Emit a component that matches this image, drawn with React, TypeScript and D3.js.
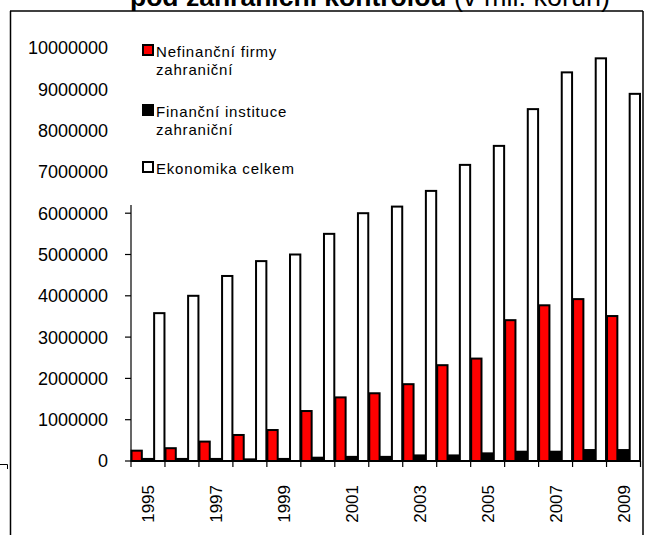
import React from "react";
import * as d3 from "d3";

const years = [
  "1995", "1996", "1997", "1998", "1999", "2000", "2001", "2002",
  "2003", "2004", "2005", "2006", "2007", "2008", "2009",
];

const seriesNames = [
  "Nefinanční firmy zahraniční",
  "Finanční instituce zahraniční",
  "Ekonomika celkem",
];

const nefinancni = [
  250000, 310000, 470000, 630000, 750000, 1210000, 1540000, 1640000,
  1860000, 2320000, 2480000, 3410000, 3770000, 3920000, 3510000,
];

const financni = [
  50000, 50000, 50000, 40000, 50000, 80000, 100000, 100000,
  135000, 135000, 185000, 225000, 225000, 265000, 265000,
];

const celkem = [
  3580000, 4000000, 4480000, 4840000, 5000000, 5500000, 6000000, 6160000,
  6540000, 7170000, 7630000, 8520000, 9410000, 9750000, 8890000,
];

const yTicks = [0, 1000000, 2000000, 3000000, 4000000, 5000000, 6000000, 7000000, 8000000, 9000000, 10000000];
const xLabelYears = ["1995", "1997", "1999", "2001", "2003", "2005", "2007", "2009"];

const colors = ["#ff0000", "#000000", "#ffffff"];
const legendLines = [
  ["Nefinanční firmy", "zahraniční"],
  ["Finanční instituce", "zahraniční"],
  ["Ekonomika celkem"],
];

const W = 646;
const H = 535;
const font = "'Liberation Sans', Arial, sans-serif";

export default function App() {
  const values = [nefinancni, financni, celkem];

  const x0 = d3.scaleBand().domain(years).range([131, 640.5]).padding(0);
  const x1 = d3
    .scaleBand()
    .domain(seriesNames)
    .range([0, x0.bandwidth()])
    .padding(0);
  const y = d3.scaleLinear().domain([0, 10000000]).range([461, 48]);

  const boundaries = years.map((yr) => x0(yr)).concat([x0.range()[1]]);

  return (
    <svg
      width={W}
      height={H}
      style={{ position: "absolute", left: 0, top: 0, background: "#fff" }}
      fontFamily={font}
    >
      {/* title, cut off at the top */}
      <text x={130} y={6} fill="#000">
        <tspan fontWeight="bold" fontSize={26.5}>pod zahraniční kontrolou</tspan>
        <tspan fontSize={27}> (v mil. korun)</tspan>
      </text>

      {/* frame */}
      <line x1={10} x2={643} y1={11} y2={11} stroke="#000" strokeWidth={1.5} />
      <line x1={10.5} x2={10.5} y1={11} y2={H} stroke="#000" strokeWidth={1.5} />
      <line x1={643} x2={643} y1={11} y2={H} stroke="#000" strokeWidth={1.5} />
      <path d="M0,464.5H7.5V469" fill="none" stroke="#000" strokeWidth={1} />

      {/* bars */}
      {years.map((yr, i) => (
        <g key={yr} transform={`translate(${x0(yr)},0)`}>
          {seriesNames.map((s, k) => {
            const v = values[k][i];
            return (
              <rect
                key={s}
                x={x1(s)! + 0.5}
                y={y(v)}
                width={x1.bandwidth() - 1}
                height={y(0) - y(v)}
                fill={colors[k]}
                stroke="#000"
                strokeWidth={2}
              />
            );
          })}
        </g>
      ))}

      {/* y axis */}
      <line x1={131} x2={131} y1={y(10000000)} y2={y(0)} stroke="#000" strokeWidth={1.2} />
      {yTicks.map((t) => (
        <g key={t}>
          <line x1={125} x2={131} y1={y(t)} y2={y(t)} stroke="#000" strokeWidth={1.2} />
          <text
            x={108}
            y={y(t)}
            dy="0.36em"
            textAnchor="end"
            fontSize={18}
            fill="#000"
          >
            {t}
          </text>
        </g>
      ))}

      {/* x axis */}
      <line x1={131} x2={x0.range()[1]} y1={y(0)} y2={y(0)} stroke="#000" strokeWidth={1.5} />
      {boundaries.map((b, i) => (
        <line key={i} x1={b} x2={b} y1={y(0)} y2={y(0) + 6} stroke="#000" strokeWidth={1.2} />
      ))}
      {xLabelYears.map((yr) => {
        const cx = x0(yr)! + x0.bandwidth() / 2;
        return (
          <text
            key={yr}
            transform={`translate(${cx},485) rotate(-90)`}
            dy="0.36em"
            textAnchor="end"
            fontSize={17}
            fill="#000"
          >
            {yr}
          </text>
        );
      })}

      {/* legend */}
      <rect x={114} y={14} width={222} height={191} fill="#fff" />
      {legendLines.map((lines, k) => {
        const top = [45, 105, 162][k];
        return (
          <g key={k}>
            <rect x={143} y={top} width={10} height={10} fill={colors[k]} stroke="#000" strokeWidth={2} />
            {lines.map((ln, j) => (
              <text
                key={j}
                x={156}
                y={top + 11.5 + j * 18.5}
                fontSize={15}
                letterSpacing={0.8}
                fill="#000"
              >
                {ln}
              </text>
            ))}
          </g>
        );
      })}
    </svg>
  );
}
